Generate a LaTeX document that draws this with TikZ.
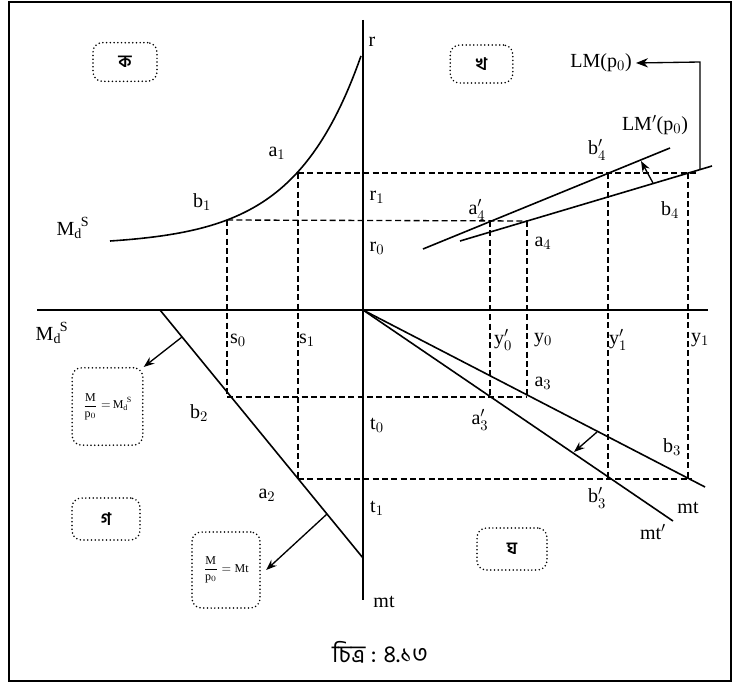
\documentclass[tikz,border=0pt]{standalone}
\usepackage{amsmath}
\usepackage{fontspec}
\setmainfont{Liberation Serif}
\newfontfamily\bnfont[Script=Bengali]{Hind Siliguri}
\usetikzlibrary{arrows.meta}
\newcommand{\mds}{M\textsubscript{d}\kern-1pt\raisebox{0.2ex}{\textsuperscript{S}}}
\begin{document}
\begin{tikzpicture}[x=0.75pt,y=-0.75pt,
  axis/.style={line width=1.6pt},
  sline/.style={line width=1.2pt},
  guide/.style={line width=1pt, dash pattern=on 4.5pt off 2.5pt},
  qbox/.style={draw, line width=1.3pt, dash pattern=on 0pt off 2.8pt, line cap=round, rounded corners=7pt, inner sep=0pt},
  lbl/.style={font=\fontsize{15}{17}\selectfont, inner sep=0pt},
  arr/.style={line width=1pt, -{Stealth[length=8pt,width=6pt]}}
]
\useasboundingbox (0,0) rectangle (738,685);
\draw[line width=1.2pt] (9,2) rectangle (731,681);

% key points
\coordinate (O) at (363,310);
\coordinate (xl) at (37,310);
\coordinate (xr) at (708,310);
\coordinate (yt) at (363,20);
\coordinate (yb) at (363,600);
\coordinate (b1) at (227,220);
\coordinate (a1) at (298,173);
\coordinate (b2) at (227,397);
\coordinate (a2) at (298,479);
\coordinate (a3) at (527,397);
\coordinate (a3p) at (490,397);
\coordinate (b3) at (688,479);
\coordinate (b3p) at (608,479);
\coordinate (a4) at (527,221);
\coordinate (a4p) at (490,221);
\coordinate (b4) at (688,173);
\coordinate (b4p) at (608,173);
\coordinate (r1e) at (697,173);
\coordinate (t1e) at (692,479);

% axes
\draw[axis] (xl) -- (xr);
\draw[axis] (yt) -- (yb);

% dashed guides
\draw[guide] (a1) -- (r1e);
\draw[guide] (b1) -- (a4);
\draw[guide] (b1) -- (b2);
\draw[guide] (a1) -- (a2);
\draw[guide] (b2) -- (a3);
\draw[guide] (a2) -- (t1e);
\draw[guide] (a4p) -- (a3p);
\draw[guide] (a4) -- (a3);
\draw[guide] (b4p) -- (b3p);
\draw[guide] (b4) -- (b3);

% quadrant ka: curve
\draw[sline] plot[domain=110:361, samples=80, smooth] (\x, {241-4.39*(exp(0.015*(\x-110))-1)});

% quadrant kha: LM lines
\coordinate (lmA) at (460,241);
\coordinate (lmB) at (712,166);
\coordinate (lmpA) at (423,249);
\coordinate (lmpB) at (670,148);
\draw[sline] (lmA) -- (lmB);
\draw[sline] (lmpA) -- (lmpB);
\coordinate (s1) at (653,183);
\coordinate (s2) at (641,161);
\draw[arr] (s1) -- (s2);
\coordinate (v1) at (700,169);
\coordinate (v2) at (700,62);
\node[lbl, anchor=east] (LM) at (632,63) {LM(p$_0$)};
\draw[line width=1pt, -{Stealth[length=9pt,width=7pt]}] (v1) -- (v2) -- ([xshift=3pt]LM.east);

% quadrant gha: mt lines
\coordinate (mtE) at (705,487);
\coordinate (mtpE) at (673,521);
\draw[sline] (O) -- (mtE);
\draw[sline] (O) -- (mtpE);
\coordinate (g1) at (597,432);
\coordinate (g2) at (574,452);
\draw[arr] (g1) -- (g2);

% quadrant ga: line
\coordinate (gA) at (160,310);
\coordinate (gB) at (363,558);
\draw[sline] (gA) -- (gB);

% quadrant boxes
\node[qbox, minimum width=48pt, minimum height=29pt] (qka) at (125,62) {\bnfont\fontsize{13}{15}\selectfont\bfseries ক};
\node[qbox, minimum width=47pt, minimum height=28.5pt] (qkha) at (481.5,64) {\bnfont\fontsize{13}{15}\selectfont\bfseries খ};
\node[qbox, minimum width=51pt, minimum height=31.5pt] (qga) at (106,519) {\bnfont\fontsize{13}{15}\selectfont\bfseries গ};
\node[qbox, minimum width=52.5pt, minimum height=31.5pt] (qgha) at (512,549) {\bnfont\fontsize{13}{15}\selectfont\bfseries ঘ};

% formula boxes
\node[qbox, minimum width=53pt, minimum height=58pt] (bx1) at (107.5,406.5) {\fontsize{9}{10}\selectfont $\displaystyle\frac{\mathrm{M}}{\mathrm{p}_0}=$\,\mds};
\node[qbox, minimum width=51pt, minimum height=57pt] (bx2) at (226,570) {\fontsize{9}{10}\selectfont $\displaystyle\frac{\mathrm{M}}{\mathrm{p}_0}=\mathrm{Mt}$};
\coordinate (f1) at (182,337);
\coordinate (f2) at (327,514);
\draw[arr] (f1) -- (bx1.north east);
\draw[arr] (f2) -- ([xshift=4pt]bx2.east);

% labels
\node[lbl] (lr) at (372,42) {r};
\node[lbl] (lr1) at (377,197) {r$_1$};
\node[lbl] (lr0) at (377,248) {r$_0$};
\node[lbl] (la1) at (277,153) {a$_1$};
\node[lbl] (lb1) at (202,202) {b$_1$};
\node[lbl] (lmds) at (73,228) {\mds};
\node[lbl] (lmds2) at (52,333) {\mds};
\node[lbl] (ls0) at (238,340) {s$_0$};
\node[lbl] (ls1) at (307,340) {s$_1$};
\node[lbl] (lb2) at (199,413) {b$_2$};
\node[lbl] (lt0) at (377,425) {t$_0$};
\node[lbl] (lt1) at (377,508) {t$_1$};
\node[lbl] (lmt) at (384,602) {mt};
\node[lbl] (la2) at (267,495) {a$_2$};
\node[lbl] (ly0p) at (503,340) {y$_0'$};
\node[lbl] (ly0) at (543,340) {y$_0$};
\node[lbl] (ly1p) at (618,340) {y$_1'$};
\node[lbl] (ly1) at (700,340) {y$_1$};
\node[lbl] (la3) at (543,383) {a$_3$};
\node[lbl] (la3p) at (480,420) {a$_3'$};
\node[lbl] (lb3) at (672,447) {b$_3$};
\node[lbl] (lb3p) at (597,498) {b$_3'$};
\node[lbl] (lmt2) at (688,508) {mt};
\node[lbl] (lmtp) at (653,532) {mt$'$};
\node[lbl] (lLMp) at (655,125) {LM$'$(p$_0$)};
\node[lbl] (lb4p) at (597,150) {b$_4'$};
\node[lbl] (lb4) at (670,210) {b$_4$};
\node[lbl] (la4p) at (477,210) {a$_4'$};
\node[lbl] (la4) at (543,243) {a$_4$};

% caption
\node[font=\bnfont\fontsize{18}{20}\selectfont, inner sep=0pt] (cap) at (380,652) {চিত্র : ৪.১৩};
\end{tikzpicture}
\end{document}
